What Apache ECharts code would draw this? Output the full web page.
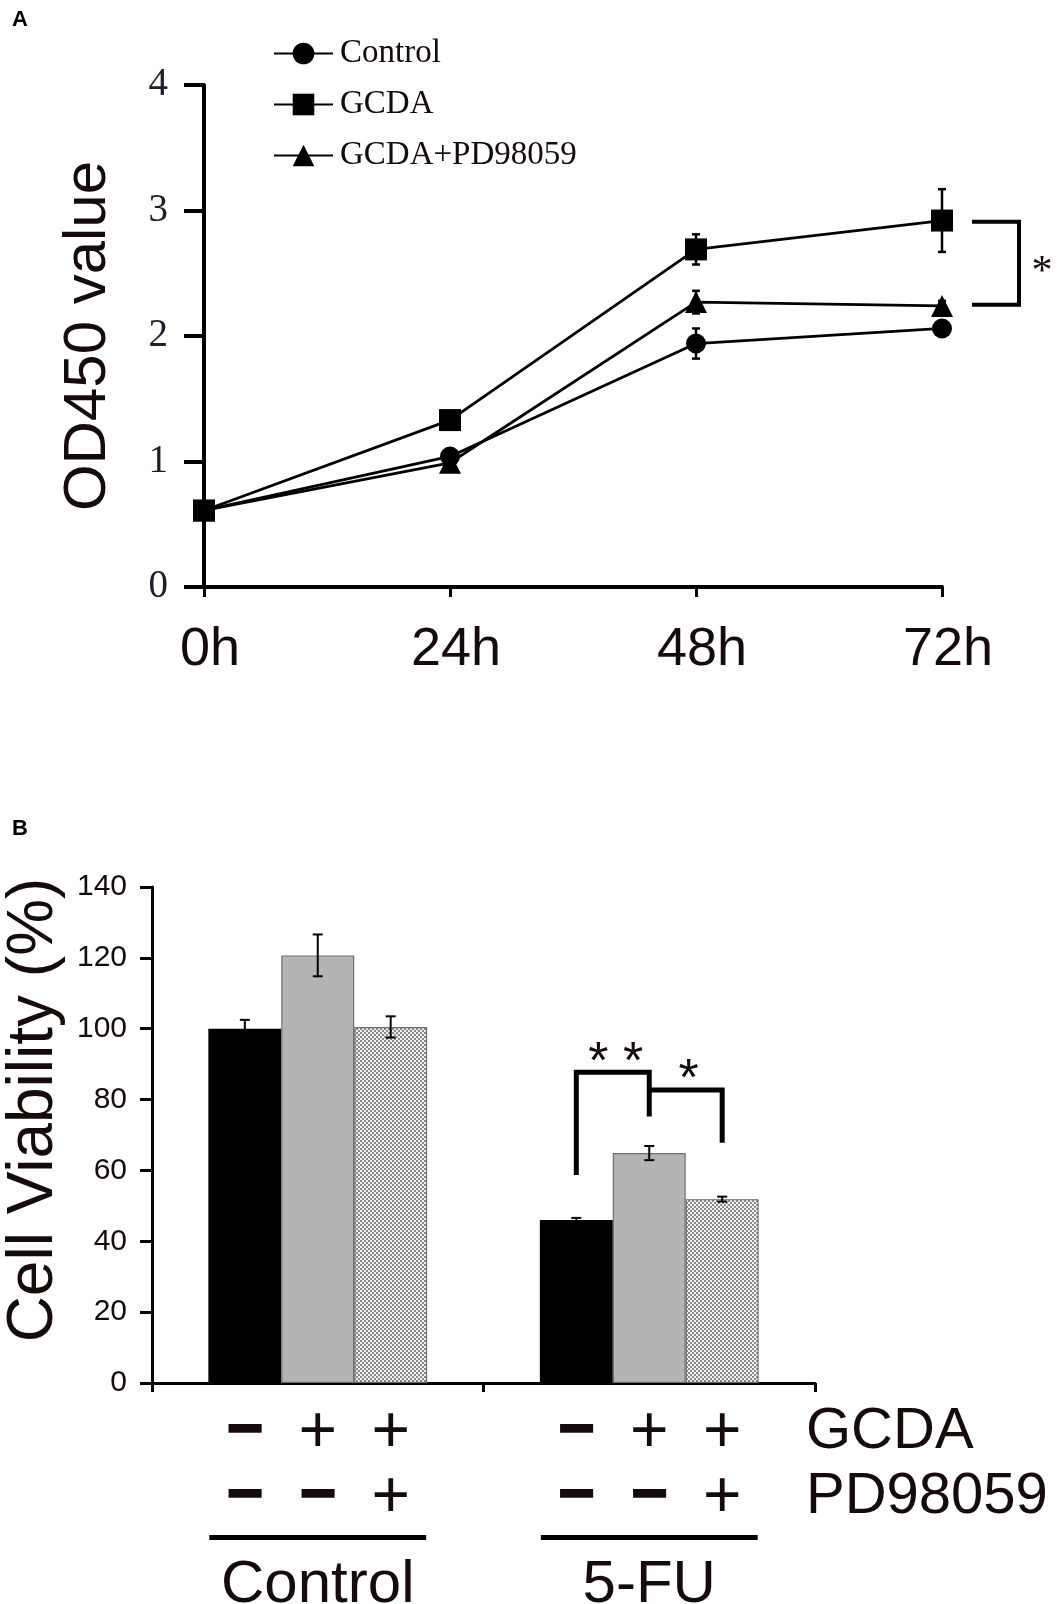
<!DOCTYPE html>
<html lang="en">
<head>
  <meta charset="utf-8">
  <title>GCDA OD450 and cell viability</title>
  <script src="https://cdn.jsdelivr.net/npm/echarts@6.0.0/dist/echarts.min.js"></script>
  <style>
    html, body { margin: 0; padding: 0; background: #fff; }
    #chart { width: 1059px; height: 1604px; }
  </style>
</head>
<body>
<div id="chart"></div>
<script>
  // ---- panel A: OD450 over time ----
  var timePoints = ['0h', '24h', '48h', '72h'];
  var lineNames = ['Control', 'GCDA', 'GCDA+PD98059'];
  var odControl = [0.61, 1.04, 1.94, 2.06];
  var odGcda = [0.61, 1.33, 2.69, 2.92];
  var odGcdaPd = [0.61, 0.99, 2.27, 2.24];
  var odControlErr = [0.02, 0.03, 0.12, 0.04];
  var odGcdaErr = [0.03, 0.04, 0.12, 0.25];
  var odGcdaPdErr = [0.02, 0.03, 0.09, 0.04];
  // bracket between GCDA and GCDA+PD98059 at 72h
  var odBracket = [2.91, 2.25];

  // ---- panel B: cell viability ----
  var groups = ['Control', '5-FU'];
  var viabNone = [100, 46];
  var viabGcda = [120.7, 64.9];
  var viabGcdaPd = [100.5, 51.9];
  var viabNoneErr = [2.5, 0.6];
  var viabGcdaErr = [5.9, 2.0];
  var viabGcdaPdErr = [3.0, 0.7];
  var gcdaFlags = ['\u2212', '+', '+'];
  var pdFlags = ['\u2212', '\u2212', '+'];
  // significance brackets in the 5-FU group: [barFrom, barTo, top, legFrom, legTo, label]
  var viabBrackets = [
    [0, 1, 87.7, 58.7, 75.2, '* *'],
    [1, 2, 82.7, 82.7, 67.8, '*']
  ];

  var SANS = 'Liberation Sans, Arial, Helvetica, sans-serif';
  var SERIF = 'Liberation Serif, Times New Roman, serif';
  var INK = '#150b0b';

  function hatch() {
    var c = document.createElement('canvas');
    c.width = 4; c.height = 4;
    var g = c.getContext('2d');
    g.fillStyle = '#f2f2f2'; g.fillRect(0, 0, 4, 4);
    g.fillStyle = '#8a8a8a';
    g.fillRect(0, 0, 2, 2); g.fillRect(2, 2, 2, 2);
    return c;
  }

  function withErr(vals, errs) {
    return vals.map(function (v, i) { return [i, v - errs[i], v + errs[i]]; });
  }

  function renderErrA(params, api) {
    var x = api.value(0);
    var lo = api.coord([x, api.value(1)]);
    var hi = api.coord([x, api.value(2)]);
    var w = 4;
    var st = { stroke: '#000', lineWidth: 2.5 };
    return { type: 'group', children: [
      { type: 'line', shape: { x1: lo[0], y1: lo[1], x2: hi[0], y2: hi[1] }, style: st },
      { type: 'line', shape: { x1: hi[0] - w, y1: hi[1], x2: hi[0] + w, y2: hi[1] }, style: st },
      { type: 'line', shape: { x1: lo[0] - w, y1: lo[1], x2: lo[0] + w, y2: lo[1] }, style: st }
    ]};
  }

  function errB(vals, errs, k) {
    return vals.map(function (v, i) { return [i, k, v - errs[i], v + errs[i]]; });
  }

  function renderErrB(params, api) {
    var band = api.size([1, 0])[0];
    var off = (api.value(1) - 1) * band * 0.22;
    var lo = api.coord([api.value(0), api.value(2)]);
    var hi = api.coord([api.value(0), api.value(3)]);
    var x = lo[0] + off, w = 5;
    var st = { stroke: '#000', lineWidth: 2 };
    return { type: 'group', children: [
      { type: 'line', shape: { x1: x, y1: lo[1], x2: x, y2: hi[1] }, style: st },
      { type: 'line', shape: { x1: x - w, y1: hi[1], x2: x + w, y2: hi[1] }, style: st },
      { type: 'line', shape: { x1: x - w, y1: lo[1], x2: x + w, y2: lo[1] }, style: st }
    ]};
  }

  var lineStyle = { color: '#000', width: 2.8 };
  var chart = echarts.init(document.getElementById('chart'));

  var option = {
    backgroundColor: '#fff',
    animation: false,
    legend: {
      data: lineNames,
      orient: 'vertical',
      left: 268, top: 32,
      itemWidth: 59, itemHeight: 27, itemGap: 18,
      textStyle: { fontFamily: SERIF, fontSize: 33, color: INK, padding: [0, 0, 0, 2] }
    },
    grid: [
      { left: 204, top: 85, width: 738, height: 502, outerBoundsMode: 'none' },
      { left: 152, top: 887, width: 663, height: 496, outerBoundsMode: 'none' }
    ],
    xAxis: [
      {
        type: 'category', gridIndex: 0, data: timePoints, boundaryGap: false,
        axisLine: { lineStyle: { color: '#000', width: 4 } },
        axisTick: { show: true, length: 10, lineStyle: { color: '#000', width: 3 } },
        axisLabel: { fontFamily: SANS, fontSize: 54, color: INK, margin: 36, padding: [0, 0, 0, 12] },
        splitLine: { show: false }
      },
      {
        type: 'category', gridIndex: 1, data: groups, boundaryGap: true,
        axisLine: { lineStyle: { color: '#000', width: 3 } },
        axisTick: { show: true, length: 9, lineStyle: { color: '#000', width: 3 } },
        axisLabel: { show: false },
        splitLine: { show: false }
      }
    ],
    yAxis: [
      {
        type: 'value', gridIndex: 0, min: 0, max: 4, interval: 1,
        name: 'OD450 value', nameLocation: 'middle', nameGap: 86,
        nameTextStyle: { fontFamily: SANS, fontSize: 60, color: INK },
        axisLine: { show: true, lineStyle: { color: '#000', width: 4 } },
        axisTick: { show: true, length: 20, lineStyle: { color: '#000', width: 4 } },
        axisLabel: { fontFamily: SERIF, fontSize: 39, color: '#1d1d2b', margin: 36 },
        splitLine: { show: false }
      },
      {
        type: 'value', gridIndex: 1, min: 0, max: 140, interval: 20,
        name: 'Cell Viability (%)', nameLocation: 'middle', nameGap: 64,
        nameTextStyle: { fontFamily: SANS, fontSize: 64, color: INK, padding: [0, 0, 0, 50] },
        axisLine: { show: true, lineStyle: { color: '#000', width: 3 } },
        axisTick: { show: true, length: 12, lineStyle: { color: '#000', width: 3 } },
        axisLabel: { fontFamily: SANS, fontSize: 30, color: INK, margin: 25 },
        splitLine: { show: false }
      }
    ],
    series: [
      { name: lineNames[0], type: 'line', xAxisIndex: 0, yAxisIndex: 0, data: odControl,
        symbol: 'circle', symbolSize: 20, lineStyle: lineStyle, itemStyle: { color: '#000' }, z: 3 },
      { name: lineNames[1], type: 'line', xAxisIndex: 0, yAxisIndex: 0, data: odGcda,
        symbol: 'rect', symbolSize: 22, lineStyle: lineStyle, itemStyle: { color: '#000' }, z: 3 },
      { name: lineNames[2], type: 'line', xAxisIndex: 0, yAxisIndex: 0, data: odGcdaPd,
        symbol: 'triangle', symbolSize: 22, lineStyle: lineStyle, itemStyle: { color: '#000' }, z: 3 },
      { type: 'custom', xAxisIndex: 0, yAxisIndex: 0, renderItem: renderErrA, data: withErr(odControl, odControlErr), z: 4 },
      { type: 'custom', xAxisIndex: 0, yAxisIndex: 0, renderItem: renderErrA, data: withErr(odGcda, odGcdaErr), z: 4 },
      { type: 'custom', xAxisIndex: 0, yAxisIndex: 0, renderItem: renderErrA, data: withErr(odGcdaPd, odGcdaPdErr), z: 4 },

      { name: 'none', type: 'bar', xAxisIndex: 1, yAxisIndex: 1, data: viabNone,
        barWidth: '22%', barGap: '0%', itemStyle: { color: '#000' } },
      { name: '+GCDA', type: 'bar', xAxisIndex: 1, yAxisIndex: 1, data: viabGcda,
        barWidth: '22%', barGap: '0%', itemStyle: { color: '#b4b4b4', borderColor: '#6e6e6e', borderWidth: 1.2 } },
      { name: '+GCDA+PD', type: 'bar', xAxisIndex: 1, yAxisIndex: 1, data: viabGcdaPd,
        barWidth: '22%', barGap: '0%',
        itemStyle: { color: { image: hatch(), repeat: 'repeat' }, borderColor: '#6e6e6e', borderWidth: 1.2 } },
      { type: 'custom', xAxisIndex: 1, yAxisIndex: 1, renderItem: renderErrB,
        data: errB(viabNone, viabNoneErr, 0).concat(errB(viabGcda, viabGcdaErr, 1), errB(viabGcdaPd, viabGcdaPdErr, 2)), z: 5 }
    ]
  };
  chart.setOption(option);

  function drawAnnotations() {
    var g = [];
    g.push({ type: 'text', left: 12, top: 9, style: { text: 'A', font: 'bold 22px ' + SANS, fill: '#000' } });
    g.push({ type: 'text', left: 12, top: 818, style: { text: 'B', font: 'bold 22px ' + SANS, fill: '#000' } });

    // panel A bracket
    var pTop = chart.convertToPixel({ xAxisIndex: 0, yAxisIndex: 0 }, [3, odBracket[0]]);
    var pBot = chart.convertToPixel({ xAxisIndex: 0, yAxisIndex: 0 }, [3, odBracket[1]]);
    var bx0 = pTop[0] + 30, bx1 = pTop[0] + 77;
    g.push({ type: 'polyline', shape: { points: [[bx0, pTop[1]], [bx1, pTop[1]], [bx1, pBot[1]], [bx0, pBot[1]]] },
      style: { stroke: '#000', lineWidth: 4, fill: null } });
    g.push({ type: 'text', x: bx1 + 23, y: (pTop[1] + pBot[1]) / 2 + 10,
      style: { text: '*', font: '42px ' + SERIF, fill: INK, align: 'center', verticalAlign: 'middle' } });

    // panel B labels under the axis
    var c0 = chart.convertToPixel({ xAxisIndex: 1, yAxisIndex: 1 }, [0, 0]);
    var c1 = chart.convertToPixel({ xAxisIndex: 1, yAxisIndex: 1 }, [1, 0]);
    var band = c1[0] - c0[0];
    var base = c0[1];
    var rightEdge = c1[0] + band / 2;
    function barX(ci, bi) { return (ci === 0 ? c0[0] : c1[0]) + (bi - 1) * band * 0.22; }

    function sign(t, x, y) {
      var minus = t !== '+';
      return { type: 'text', x: x, y: y + (minus ? 0 : 2),
        style: { text: t, fill: INK, align: 'center', verticalAlign: 'middle',
          font: (minus ? 'bold 62px ' : '66px ') + SANS,
          stroke: minus ? INK : null, lineWidth: minus ? 2 : 0 } };
    }
    for (var ci = 0; ci < groups.length; ci++) {
      for (var bi = 0; bi < 3; bi++) {
        g.push(sign(gcdaFlags[bi], barX(ci, bi), base + 49));
        g.push(sign(pdFlags[bi], barX(ci, bi), base + 114));
      }
      var cx = ci === 0 ? c0[0] : c1[0];
      g.push({ type: 'rect', shape: { x: cx - band * 0.327, y: base + 152, width: band * 0.654, height: 5 },
        style: { fill: '#000' } });
      g.push({ type: 'text', x: cx, y: base + 202,
        style: { text: groups[ci], font: '60px ' + SANS, fill: INK, align: 'center', verticalAlign: 'middle' } });
    }
    g.push({ type: 'text', x: rightEdge - 9, y: base + 49,
      style: { text: 'GCDA', font: '58px ' + SANS, fill: INK, align: 'left', verticalAlign: 'middle' } });
    g.push({ type: 'text', x: rightEdge - 9, y: base + 114,
      style: { text: 'PD98059', font: '58px ' + SANS, fill: INK, align: 'left', verticalAlign: 'middle' } });

    // panel B significance brackets (5-FU group)
    viabBrackets.forEach(function (b) {
      var xa = barX(1, b[0]), xb = barX(1, b[1]);
      var yTop = chart.convertToPixel({ xAxisIndex: 1, yAxisIndex: 1 }, [1, b[2]])[1];
      var yA = chart.convertToPixel({ xAxisIndex: 1, yAxisIndex: 1 }, [1, b[3]])[1];
      var yB = chart.convertToPixel({ xAxisIndex: 1, yAxisIndex: 1 }, [1, b[4]])[1];
      g.push({ type: 'polyline', shape: { points: [[xa, yA], [xa, yTop], [xb, yTop], [xb, yB]] },
        style: { stroke: '#000', lineWidth: 5, fill: null } });
      g.push({ type: 'text', x: (xa + xb) / 2 + 3, y: yTop + 17,
        style: { text: b[5], font: '52px ' + SANS, fill: INK, align: 'center', verticalAlign: 'bottom' } });
    });

    chart.setOption({ graphic: g });
  }
  drawAnnotations();

  window.addEventListener('resize', function () {
    setTimeout(function () { chart.resize(); drawAnnotations(); }, 200);
  });
</script>
</body>
</html>
